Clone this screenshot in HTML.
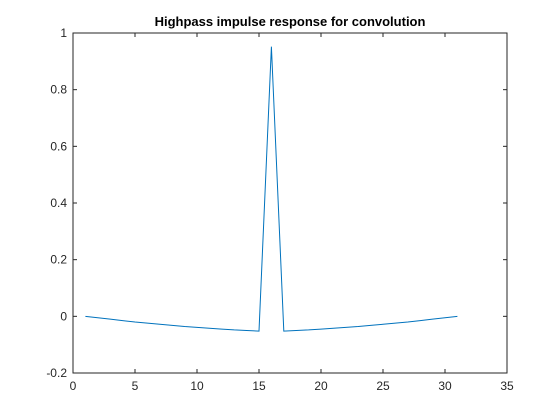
<!DOCTYPE html>
<html><head><meta charset="utf-8"><style>body{margin:0;background:#fff}svg{display:block}text{font-family:"Liberation Sans",sans-serif}</style></head>
<body>
<svg id="chart" width="560" height="420" xmlns="http://www.w3.org/2000/svg"></svg>
<script>
const xTicks=[0,5,10,15,20,25,30,35];
const yTicks=[-0.2,0,0.2,0.4,0.6,0.8,1];
const yTickLabels=["-0.2","0","0.2","0.4","0.6","0.8","1"];
const nValues=[1,2,3,4,5,6,7,8,9,10,11,12,13,14,15,16,17,18,19,20,21,22,23,24,25,26,27,28,29,30,31];
const hValues=[0,-0.005,-0.010,-0.015,-0.020,-0.024,-0.028,-0.032,-0.036,-0.039,-0.042,-0.045,-0.048,-0.050,-0.052,0.952,-0.052,-0.050,-0.048,-0.045,-0.042,-0.039,-0.036,-0.032,-0.028,-0.024,-0.020,-0.015,-0.010,-0.005,0];
const L=73,R=507,T=33,B=373;
const sx=v=>L+(v-0)/(35-0)*(R-L);
const sy=v=>B-(v+0.2)/1.2*(B-T);
const svg=document.getElementById('chart');
const NS='http://www.w3.org/2000/svg';
function mk(tag,attrs,parent){const e=document.createElementNS(NS,tag);for(const k in attrs)e.setAttribute(k,attrs[k]);(parent||svg).appendChild(e);return e;}
const ax=mk('rect',{x:L,y:T,width:R-L,height:B-T,fill:'#fff',stroke:'#262626','stroke-width':1});


xTicks.forEach(t=>{
  const x=sx(t);
  const tk=mk('line',{x1:x,x2:x,y1:B,y2:B-4,stroke:'#262626'});
  
  
  mk('line',{x1:x,x2:x,y1:T,y2:T+4,stroke:'#262626'});
  const lb=mk('text',{x:x,y:B+17,'text-anchor':'middle','font-size':12,fill:'#262626'});
  lb.textContent=t;
  
  
});
yTicks.forEach((t,i)=>{
  const y=sy(t);
  const tk=mk('line',{x1:L,x2:L+4,y1:y,y2:y,stroke:'#262626'});
  
  
  mk('line',{x1:R,x2:R-4,y1:y,y2:y,stroke:'#262626'});
  const lb=mk('text',{x:L-6,y:y+4,'text-anchor':'end','font-size':12,fill:'#262626'});
  lb.textContent=yTickLabels[i];
  
  
});
const pts=nValues.map((n,i)=>sx(n)+','+sy(hValues[i])).join(' ');
const line=mk('polyline',{points:pts,fill:'none',stroke:'#0072bd','stroke-width':1});


const title=mk('text',{x:(L+R)/2,y:26,'text-anchor':'middle','font-size':13,'font-weight':'bold',fill:'#000'});
title.textContent='Highpass impulse response for convolution';


</script>
</body></html>
